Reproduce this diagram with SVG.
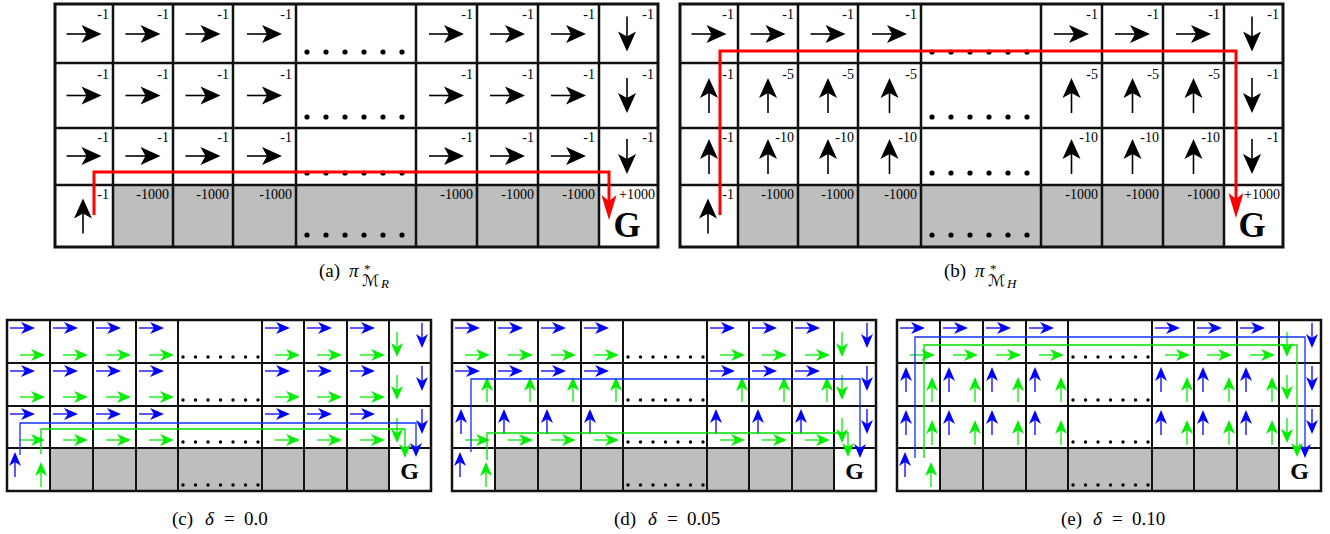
<svg xmlns="http://www.w3.org/2000/svg" width="1330" height="534" viewBox="0 0 1330 534">
<style>
.bg{fill:#fff}
.gray{fill:#bebebe}
.grid{fill:none;stroke:#111;stroke-width:2.5}
.outer{fill:none;stroke:#111;stroke-width:3}
.gridS{fill:none;stroke:#111;stroke-width:2}
.outerS{fill:none;stroke:#111;stroke-width:2.5}
.lbl{font-family:"Liberation Serif","Times New Roman",serif;font-size:14px;text-anchor:end;fill:#000}
.G{font-family:"Liberation Serif","Times New Roman",serif;font-weight:bold;text-anchor:middle;fill:#000}
.cap{font-family:"Liberation Serif","Times New Roman",serif;font-size:19px;fill:#000}
.it{font-style:italic}
.b{color:#0000ff}
.g{color:#00ee00}
.red{fill:none;stroke:#ff0000;stroke-width:3}
.pb{fill:none;stroke:#1030ff;stroke-width:1.3}
.pg{fill:none;stroke:#00e000;stroke-width:1.3}
.dot{fill:#000}
</style>
<defs>
<g id="bR"><line x1="-35" y1="0" x2="-14" y2="0" stroke="#000" stroke-width="1.6"/><path d="M0,0 L-20,-9 L-15,0 L-20,9 Z" fill="#000"/></g>
<g id="sR"><line x1="-25" y1="0" x2="-10" y2="0" stroke="currentColor" stroke-width="1.3"/><path d="M0,0 L-14,-6 L-10,0 L-14,6 Z" fill="currentColor"/></g>
<path id="rH" d="M0,0 L-25,-7.5 L-19,0 L-25,7.5 Z" fill="#ff0000"/>
<path id="sH" d="M0,0 L-14,-6 L-10,0 L-14,6 Z" fill="currentColor"/>
<g id="d6"><circle cx="307" cy="0" r="2.6"/><circle cx="326" cy="0" r="2.6"/><circle cx="345" cy="0" r="2.6"/><circle cx="364" cy="0" r="2.6"/><circle cx="383" cy="0" r="2.6"/><circle cx="402" cy="0" r="2.6"/></g>
<g id="d7"><circle cx="183" cy="0" r="1.7"/><circle cx="195.5" cy="0" r="1.7"/><circle cx="208" cy="0" r="1.7"/><circle cx="220.5" cy="0" r="1.7"/><circle cx="233" cy="0" r="1.7"/><circle cx="245.5" cy="0" r="1.7"/><circle cx="258" cy="0" r="1.7"/></g>
<g id="bigGrid">
<rect class="bg" x="55" y="4" width="603" height="243"/>
<rect class="gray" x="113" y="185" width="486" height="62"/>
<path class="grid" d="M113,4V247 M173,4V247 M233,4V247 M296,4V247 M416,4V247 M477,4V247 M538,4V247 M599,4V247 M55,63H658 M55,128H658 M55,185H658"/>
<rect class="outer" x="55" y="4" width="603" height="243"/>
<g class="dot"><use href="#d6" y="52"/><use href="#d6" y="117"/><use href="#d6" y="173"/><use href="#d6" y="235"/></g>
<text class="G" x="627" y="237" font-size="35">G</text>
<text class="lbl" x="655" y="199">+1000</text>
<text class="lbl" x="109" y="199">-1</text>
<text class="lbl" x="169" y="199">-1000</text><text class="lbl" x="229" y="199">-1000</text><text class="lbl" x="292" y="199">-1000</text>
<text class="lbl" x="473" y="199">-1000</text><text class="lbl" x="534" y="199">-1000</text><text class="lbl" x="595" y="199">-1000</text>
<use href="#bR" transform="translate(83,198.5) rotate(-90)"/>
<use href="#bR" transform="translate(627,51.5) rotate(90)"/>
<use href="#bR" transform="translate(627,113) rotate(90)"/>
<use href="#bR" transform="translate(627,174) rotate(90)"/>
<text class="lbl" x="654" y="19">-1</text><text class="lbl" x="654" y="79">-1</text><text class="lbl" x="654" y="142">-1</text>
</g>
<g id="smallGrid">
<rect class="bg" x="7" y="320" width="424" height="171"/>
<rect class="gray" x="50" y="448" width="339" height="43"/>
<path class="gridS" d="M50,320V491 M93,320V491 M136,320V491 M178,320V491 M262,320V491 M304,320V491 M347,320V491 M389,320V491 M7,363H431 M7,406H431 M7,448H431"/>
<rect class="outerS" x="7" y="320" width="424" height="171"/>
<g class="dot"><use href="#d7" y="357"/><use href="#d7" y="400"/><use href="#d7" y="442"/><use href="#d7" y="485"/></g>
<text class="G" x="409.5" y="479" font-size="24">G</text>
<g class="b"><use href="#sR" transform="translate(422,348) rotate(90)"/><use href="#sR" transform="translate(422,391) rotate(90)"/><use href="#sR" transform="translate(422,434) rotate(90)"/><use href="#sR" transform="translate(15,452) rotate(-90)"/></g>
<g class="g"><use href="#sR" transform="translate(397,357) rotate(90)"/><use href="#sR" transform="translate(397,400) rotate(90)"/><use href="#sR" transform="translate(397,443) rotate(90)"/><use href="#sR" transform="translate(41,462) rotate(-90)"/></g>
</g>
<g id="bRow0">
<use href="#sR" x="35" y="328"/><use href="#sR" x="78" y="328"/><use href="#sR" x="121" y="328"/><use href="#sR" x="164" y="328"/><use href="#sR" x="290" y="328"/><use href="#sR" x="332" y="328"/><use href="#sR" x="375" y="328"/>
</g>
<g id="gRow0">
<use href="#sR" x="45" y="355"/><use href="#sR" x="88" y="355"/><use href="#sR" x="131" y="355"/><use href="#sR" x="174" y="355"/><use href="#sR" x="300" y="355"/><use href="#sR" x="342" y="355"/><use href="#sR" x="385" y="355"/>
</g>
<g id="bUpR">
<use href="#sR" transform="translate(16,0) rotate(-90)"/><use href="#sR" transform="translate(59,0) rotate(-90)"/><use href="#sR" transform="translate(102,0) rotate(-90)"/><use href="#sR" transform="translate(145,0) rotate(-90)"/><use href="#sR" transform="translate(271,0) rotate(-90)"/><use href="#sR" transform="translate(313,0) rotate(-90)"/><use href="#sR" transform="translate(356,0) rotate(-90)"/>
</g>
<g id="gUpR">
<use href="#sR" transform="translate(42,0) rotate(-90)"/><use href="#sR" transform="translate(85,0) rotate(-90)"/><use href="#sR" transform="translate(128,0) rotate(-90)"/><use href="#sR" transform="translate(171,0) rotate(-90)"/><use href="#sR" transform="translate(297,0) rotate(-90)"/><use href="#sR" transform="translate(339,0) rotate(-90)"/><use href="#sR" transform="translate(382,0) rotate(-90)"/>
</g>
</defs>

<g id="panel-a">
<use href="#bigGrid"/>
<g>
<use href="#bR" x="101.5" y="34"/><use href="#bR" x="160.5" y="34"/><use href="#bR" x="220.5" y="34"/><use href="#bR" x="282" y="34"/><use href="#bR" x="464" y="34"/><use href="#bR" x="525" y="34"/><use href="#bR" x="586" y="34"/>
<use href="#bR" x="101.5" y="95.5"/><use href="#bR" x="160.5" y="95.5"/><use href="#bR" x="220.5" y="95.5"/><use href="#bR" x="282" y="95.5"/><use href="#bR" x="464" y="95.5"/><use href="#bR" x="525" y="95.5"/><use href="#bR" x="586" y="95.5"/>
<use href="#bR" x="101.5" y="156"/><use href="#bR" x="160.5" y="156"/><use href="#bR" x="220.5" y="156"/><use href="#bR" x="282" y="156"/><use href="#bR" x="464" y="156"/><use href="#bR" x="525" y="156"/><use href="#bR" x="586" y="156"/>
</g>
<g>
<text class="lbl" x="109" y="19">-1</text><text class="lbl" x="169" y="19">-1</text><text class="lbl" x="229" y="19">-1</text><text class="lbl" x="292" y="19">-1</text><text class="lbl" x="473" y="19">-1</text><text class="lbl" x="534" y="19">-1</text><text class="lbl" x="595" y="19">-1</text>
<text class="lbl" x="109" y="79">-1</text><text class="lbl" x="169" y="79">-1</text><text class="lbl" x="229" y="79">-1</text><text class="lbl" x="292" y="79">-1</text><text class="lbl" x="473" y="79">-1</text><text class="lbl" x="534" y="79">-1</text><text class="lbl" x="595" y="79">-1</text>
<text class="lbl" x="109" y="142">-1</text><text class="lbl" x="169" y="142">-1</text><text class="lbl" x="229" y="142">-1</text><text class="lbl" x="292" y="142">-1</text><text class="lbl" x="473" y="142">-1</text><text class="lbl" x="534" y="142">-1</text><text class="lbl" x="595" y="142">-1</text>
</g>
</g>

<g id="panel-b" transform="translate(625,0)">
<use href="#bigGrid"/>
<g>
<use href="#bR" x="101.5" y="34"/><use href="#bR" x="160.5" y="34"/><use href="#bR" x="220.5" y="34"/><use href="#bR" x="282" y="34"/><use href="#bR" x="464" y="34"/><use href="#bR" x="525" y="34"/><use href="#bR" x="586" y="34"/>
<use href="#bR" transform="translate(84,78) rotate(-90)"/><use href="#bR" transform="translate(143,78) rotate(-90)"/><use href="#bR" transform="translate(203,78) rotate(-90)"/><use href="#bR" transform="translate(264.5,78) rotate(-90)"/><use href="#bR" transform="translate(446.5,78) rotate(-90)"/><use href="#bR" transform="translate(507.5,78) rotate(-90)"/><use href="#bR" transform="translate(568.5,78) rotate(-90)"/>
<use href="#bR" transform="translate(84,139) rotate(-90)"/><use href="#bR" transform="translate(143,139) rotate(-90)"/><use href="#bR" transform="translate(203,139) rotate(-90)"/><use href="#bR" transform="translate(264.5,139) rotate(-90)"/><use href="#bR" transform="translate(446.5,139) rotate(-90)"/><use href="#bR" transform="translate(507.5,139) rotate(-90)"/><use href="#bR" transform="translate(568.5,139) rotate(-90)"/>
</g>
<g>
<text class="lbl" x="109" y="19">-1</text><text class="lbl" x="169" y="19">-1</text><text class="lbl" x="229" y="19">-1</text><text class="lbl" x="292" y="19">-1</text><text class="lbl" x="473" y="19">-1</text><text class="lbl" x="534" y="19">-1</text><text class="lbl" x="595" y="19">-1</text>
<text class="lbl" x="109" y="79">-1</text><text class="lbl" x="169" y="79">-5</text><text class="lbl" x="229" y="79">-5</text><text class="lbl" x="292" y="79">-5</text><text class="lbl" x="473" y="79">-5</text><text class="lbl" x="534" y="79">-5</text><text class="lbl" x="595" y="79">-5</text>
<text class="lbl" x="109" y="142">-1</text><text class="lbl" x="169" y="142">-10</text><text class="lbl" x="229" y="142">-10</text><text class="lbl" x="292" y="142">-10</text><text class="lbl" x="473" y="142">-10</text><text class="lbl" x="534" y="142">-10</text><text class="lbl" x="595" y="142">-10</text>
</g>
</g>

<g id="panel-c">
<use href="#smallGrid"/>
<g class="b"><use href="#bRow0"/><use href="#bRow0" y="43"/><use href="#bRow0" y="86"/></g>
<g class="g"><use href="#gRow0"/><use href="#gRow0" y="42"/><use href="#gRow0" y="85"/></g>
</g>

<g id="panel-d" transform="translate(445,0)">
<use href="#smallGrid"/>
<g class="b"><use href="#bRow0"/><use href="#bRow0" y="43"/><use href="#bUpR" y="409"/></g>
<g class="g"><use href="#gRow0"/><use href="#gUpR" y="377"/><use href="#gRow0" y="85"/></g>
</g>

<g id="panel-e" transform="translate(890,0)">
<use href="#smallGrid"/>
<g class="b"><use href="#bRow0"/><use href="#bUpR" y="367"/><use href="#bUpR" y="410"/></g>
<g class="g"><use href="#gRow0"/><use href="#gUpR" y="377"/><use href="#gUpR" y="420"/></g>
</g>

<g id="connectors">
<path class="red" d="M94,215 V172 H609 V202"/>
<use href="#rH" transform="translate(609,220) rotate(90)"/>
<path class="red" d="M720,215 V51 H1236 V200"/>
<use href="#rH" transform="translate(1236,218) rotate(90)"/>
<g class="b">
<path class="pb" d="M20,455 V423 H416 V448"/><use href="#sH" transform="translate(416,457) rotate(90)"/>
<path class="pb" d="M471,452 V379 H860 V449"/><use href="#sH" transform="translate(860,458) rotate(90)"/>
<path class="pb" d="M915,458 V337 H1305 V449"/><use href="#sH" transform="translate(1305,458) rotate(90)"/>
</g>
<g class="g">
<path class="pg" d="M41,454 V429 H405 V449"/><use href="#sH" transform="translate(405,458) rotate(90)"/>
<path class="pg" d="M487,460 V433 H848 V448"/><use href="#sH" transform="translate(848,457) rotate(90)"/>
<path class="pg" d="M924,458 V345 H1297 V448"/><use href="#sH" transform="translate(1297,457) rotate(90)"/>
</g>
</g>

<g id="captions">
<text class="cap" x="319" y="277">(a)<tspan class="it" x="349">π</tspan><tspan font-size="13" x="364" dy="-4">*</tspan><tspan font-family="DejaVu Serif, DejaVu Sans, serif" font-style="italic" font-size="16" x="362" dy="13">ℳ</tspan><tspan class="it" font-size="13" x="381" dy="2">R</tspan></text>
<text class="cap" x="944" y="277">(b)<tspan class="it" x="975">π</tspan><tspan font-size="13" x="990" dy="-4">*</tspan><tspan font-family="DejaVu Serif, DejaVu Sans, serif" font-style="italic" font-size="16" x="988" dy="13">ℳ</tspan><tspan class="it" font-size="13" x="1007" dy="2">H</tspan></text>

<text class="cap" x="172" y="525">(c)<tspan class="it" x="205">δ</tspan><tspan x="224">=</tspan><tspan x="244">0.0</tspan></text>
<text class="cap" x="614" y="525">(d)<tspan class="it" x="648">δ</tspan><tspan x="667">=</tspan><tspan x="687">0.05</tspan></text>
<text class="cap" x="1061" y="525">(e)<tspan class="it" x="1093">δ</tspan><tspan x="1112">=</tspan><tspan x="1132">0.10</tspan></text>
</g>
</svg>
